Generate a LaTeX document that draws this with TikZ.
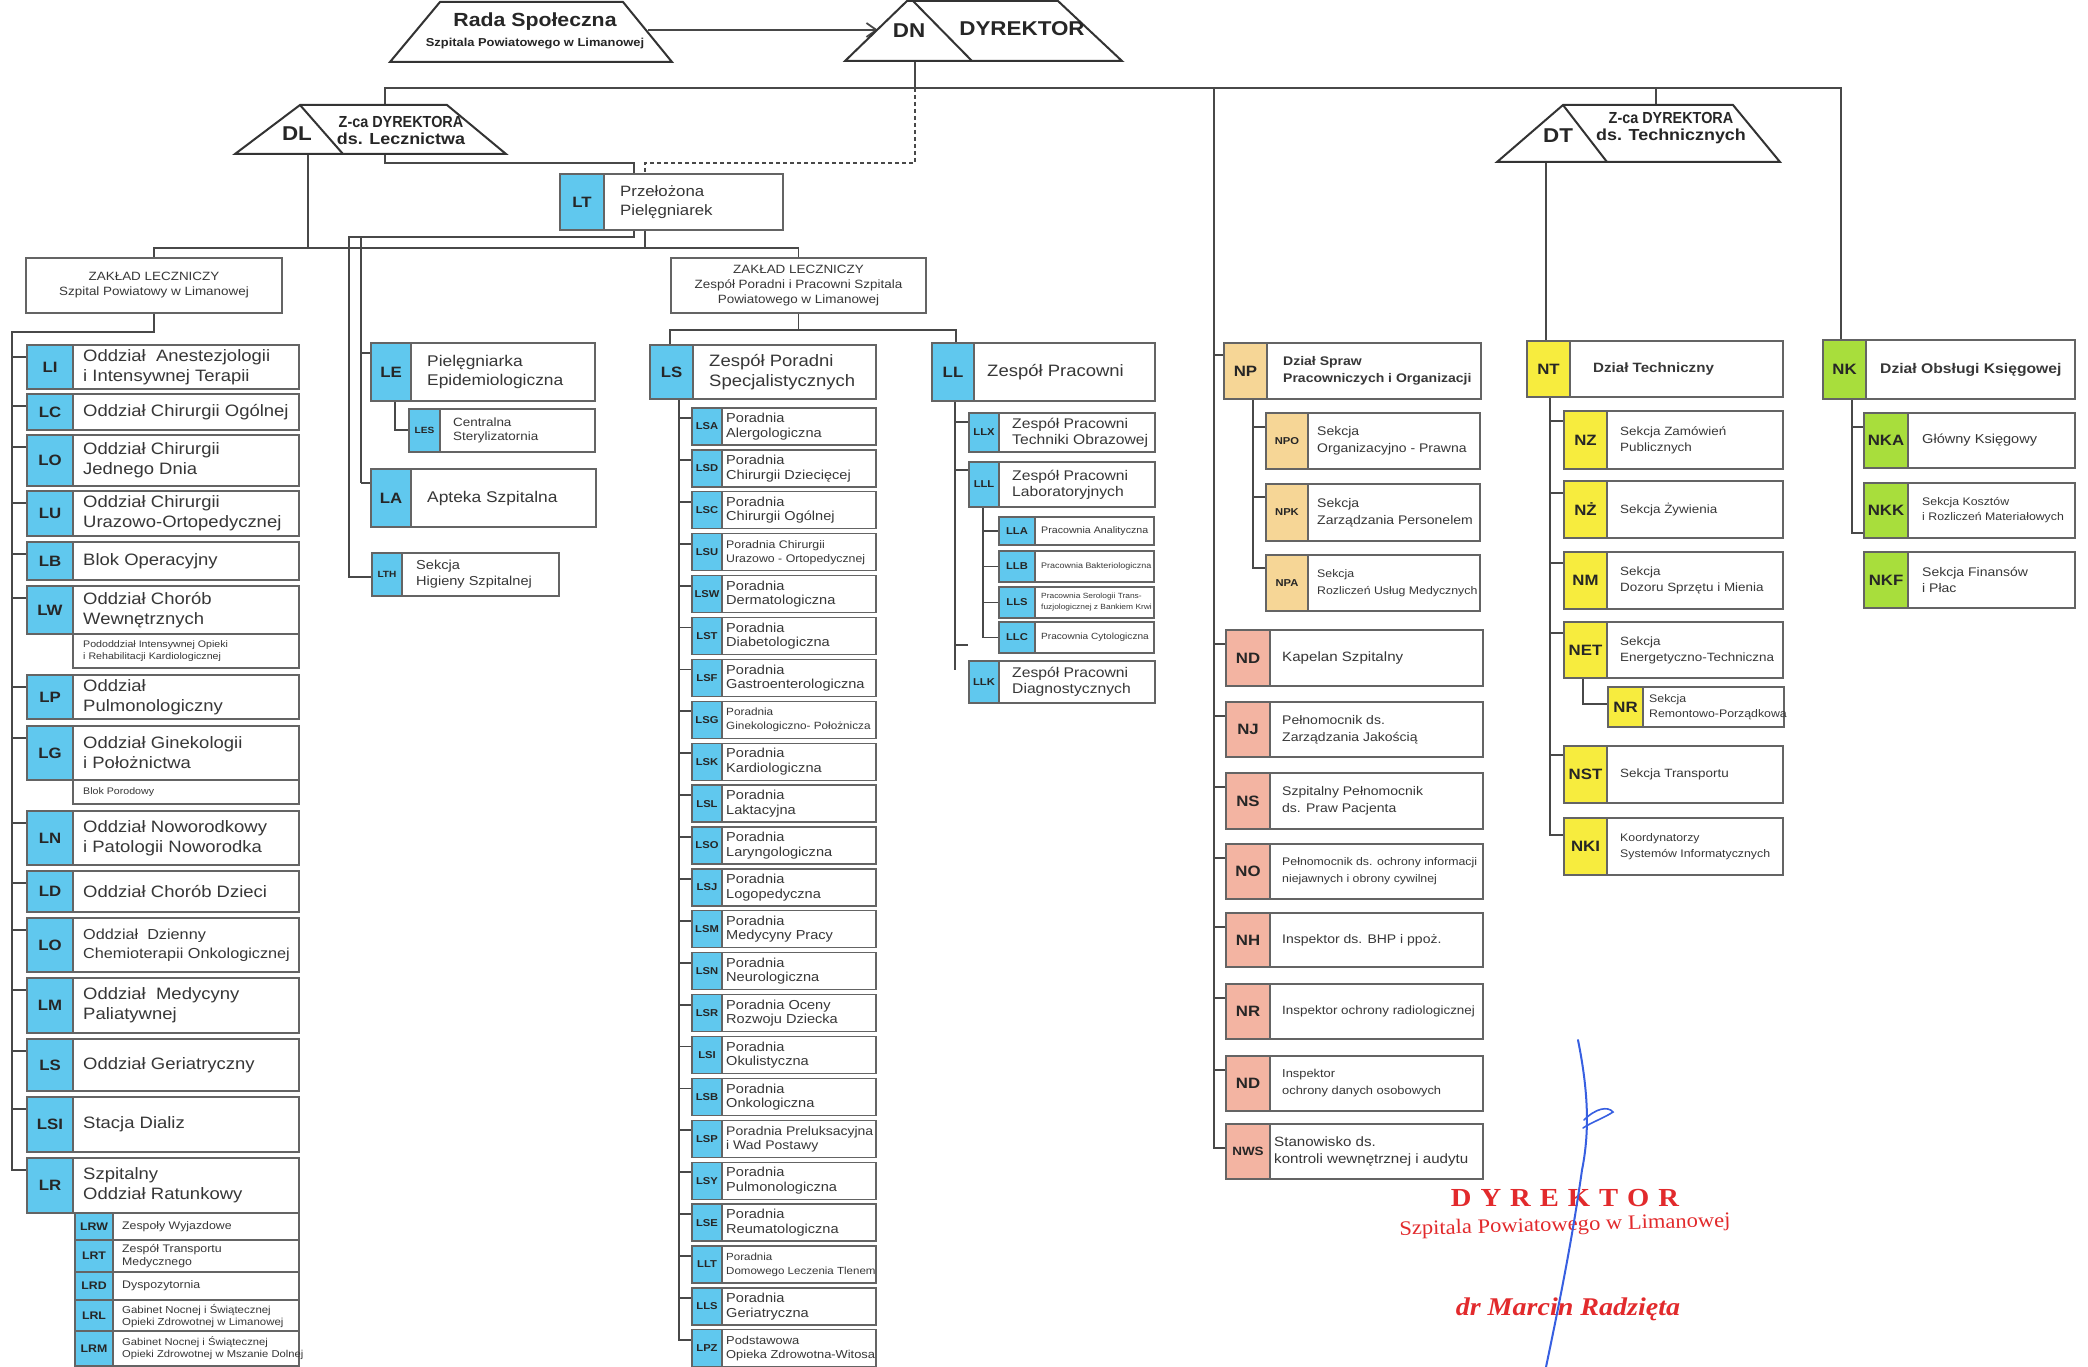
\documentclass[tikz,border=0pt]{standalone}
\usepackage{fontspec}
\setmainfont[FakeStretch=1.12]{Liberation Sans}
\newfontfamily\narrowbf[FakeStretch=0.9]{Liberation Sans}
\newfontfamily\redserif[FakeStretch=1.1]{Liberation Serif}
\usetikzlibrary{calc,arrows.meta}
\pgfdeclarelayer{back}\pgfdeclarelayer{bg}\pgfsetlayers{back,bg,main}
\newcommand\fsz[2]{\fontsize{#1}{#2}\selectfont}
\newcommand\lcf{\fsz{16.5}{20}}
\definecolor{cblue}{RGB}{96,200,238}
\definecolor{corange}{RGB}{246,214,150}
\definecolor{cpink}{RGB}{243,180,162}
\definecolor{cyellow}{RGB}{247,236,62}
\definecolor{cgreen}{RGB}{168,222,60}
\definecolor{connc}{RGB}{72,72,72}
\definecolor{framec}{RGB}{100,100,100}
\definecolor{txtc}{RGB}{55,55,55}
\definecolor{cred}{RGB}{226,42,44}
\definecolor{cpen}{RGB}{55,95,225}
\newcommand\ubox[8]{%
  \node[frame, minimum width={#4-(#2)}, minimum height={#5-(#3)}, anchor=north west] (#1) at (#2,#3) {};%
  \node[codebox, #7, minimum width={#6}, minimum height={#5-(#3)}, anchor=north west] (#1c) at (#2,#3) {#8};%
}
\newcommand\utx[4]{\node[txt, font=#3, anchor=west] (#1t) at ($(#1c.east)+(#2,0)$) {#4};}
\newcommand\lstub[3]{\begin{pgfonlayer}{bg}\draw[conn] ($(#1.north west)+(0,#2)$) -- ++(-#3,0);\end{pgfonlayer}}
\newcommand\lsgap{\hspace{9pt}}
\begin{document}
\begin{tikzpicture}[x=1pt,y=-1pt,
  frame/.style={draw=framec, line width=1.3pt, fill=white, inner sep=0pt, outer sep=0pt},
  codebox/.style={draw=framec, line width=1.3pt, inner sep=0pt, outer sep=0pt, text=black!85},
  txt/.style={inner sep=0pt, align=left, text=txtc},
  conn/.style={draw=connc, line width=1.8pt},
  hdr/.style={draw=black!80, line width=2pt, fill=white, line join=miter},
  htxt/.style={inner sep=0pt, text=black!85},
  kbl/.style={fill=cblue, font=\bfseries\fsz{15}{16}},
  kbls/.style={fill=cblue, font=\bfseries\fsz{10}{11}},
  kblt/.style={fill=cblue, font=\bfseries\fsz{9}{10}},
  kbl2/.style={fill=cblue, font=\bfseries\fsz{11}{12}},
  kor/.style={fill=corange, font=\bfseries\fsz{15}{16}},
  kors/.style={fill=corange, font=\bfseries\fsz{10}{11}},
  kpk/.style={fill=cpink, font=\bfseries\fsz{15}{16}},
  kpks/.style={fill=cpink, font=\bfseries\fsz{12}{13}},
  kye/.style={fill=cyellow, font=\bfseries\fsz{15}{16}},
  kgr/.style={fill=cgreen, font=\bfseries\fsz{15}{16}}]
\useasboundingbox (0,0) rectangle (2088,1367);
\begin{pgfonlayer}{back}\fill[white] (0,0) rectangle (2088,1367);\end{pgfonlayer}

% ---------- header shapes ----------
\draw[hdr] (390,62) -- (440,2) -- (623,2) -- (672,62) -- cycle;
\node[htxt, font=\bfseries\fsz{19}{21}] (radaT) at (535,22) {Rada Społeczna};
\node[htxt, font=\bfseries\fsz{11.5}{13}] (radaS) at (535,44) {Szpitala Powiatowego w Limanowej};
\draw[hdr] (845,61) -- (907,1) -- (1058,1) -- (1122,61) -- cycle;
\draw[hdr] (913,1) -- (972,61);
\node[htxt, font=\bfseries\fsz{20}{22}] (dnT) at (909,31) {DN};
\node[htxt, font=\bfseries\fsz{20}{22}] (dyrT) at (1022,29) {DYREKTOR};
\draw[hdr] (235,154) -- (300,105) -- (447,105) -- (506,154) -- cycle;
\draw[hdr] (300,105) -- (343,154);
\node[htxt, font=\bfseries\fsz{20}{22}] (dlT) at (297,134) {DL};
\node[htxt, font=\narrowbf\bfseries\fsz{16}{18}] (dlZ) at (401,122) {Z-ca DYREKTORA};
\node[htxt, font=\bfseries\fsz{16}{18}] (dlD) at (401,139) {ds. Lecznictwa};
\draw[hdr] (1497,162) -- (1563,105) -- (1733,105) -- (1780,162) -- cycle;
\draw[hdr] (1563,105) -- (1607,162);
\node[htxt, font=\bfseries\fsz{20}{22}] (dtT) at (1558,136) {DT};
\node[htxt, font=\narrowbf\bfseries\fsz{16}{18}] (dtZ) at (1671,118) {Z-ca DYREKTORA};
\node[htxt, font=\bfseries\fsz{16}{18}] (dtD) at (1671,136) {ds. Technicznych};
\coordinate (radaE) at (648,30);
\coordinate (dnW) at (878,30);
\coordinate (dnB) at (915,61);
\coordinate (busL) at (385,88);
\coordinate (dlTop) at (385,105);
\coordinate (dlB) at (385,154);
\coordinate (dlB2) at (308,154);
\coordinate (dtTop) at (1656,105);
\coordinate (dtB) at (1546,162);

% ---------- LT and Zaklady ----------
\ubox{LT}{560}{174}{783}{230}{44}{kbl}{LT}
\utx{LT}{16}{\fsz{15}{19}}{Przełożona\\Pielęgniarek}
\node[frame, minimum width=256, minimum height=55, anchor=north west, align=center, text=txtc, font=\fsz{12}{15}] (ZL) at (26,258) {ZAKŁAD LECZNICZY\\Szpital Powiatowy w Limanowej};
\node[frame, minimum width=255, minimum height=55, anchor=north west, align=center, text=txtc, font=\fsz{12}{15}] (ZR) at (671,258) {ZAKŁAD LECZNICZY\\Zespół Poradni i Pracowni Szpitala\\Powiatowego w Limanowej};
\coordinate (ZLb) at ($(ZL.north)+(0,-10)$);

% ---------- left column ----------
\ubox{LI}{27}{345}{299}{389}{46}{kbl}{LI}
\utx{LI}{10}{\lcf}{Oddział~ Anestezjologii\\i Intensywnej Terapii}
\ubox{LC}{27}{394}{299}{430}{46}{kbl}{LC}
\utx{LC}{10}{\lcf}{Oddział Chirurgii Ogólnej}
\ubox{LO}{27}{435}{299}{486}{46}{kbl}{LO}
\utx{LO}{10}{\lcf}{Oddział Chirurgii\\Jednego Dnia}
\ubox{LU}{27}{491}{299}{536}{46}{kbl}{LU}
\utx{LU}{10}{\lcf}{Oddział Chirurgii\\Urazowo-Ortopedycznej}
\ubox{LB}{27}{542}{299}{580}{46}{kbl}{LB}
\utx{LB}{10}{\lcf}{Blok Operacyjny}
\ubox{LW}{27}{586}{299}{634}{46}{kbl}{LW}
\utx{LW}{10}{\lcf}{Oddział Chorób\\Wewnętrznych}
\node[frame, minimum width=226, minimum height=34, anchor=north west] (LWs) at (73,634) {};
\node[txt, font=\fsz{9.5}{11.5}, anchor=west] (LWst) at ($(LWs.west)+(10,0)$) {Pododdział Intensywnej Opieki\\i Rehabilitacji Kardiologicznej};
\ubox{LP}{27}{675}{299}{719}{46}{kbl}{LP}
\utx{LP}{10}{\lcf}{Oddział\\Pulmonologiczny}
\ubox{LG}{27}{726}{299}{780}{46}{kbl}{LG}
\utx{LG}{10}{\lcf}{Oddział Ginekologii\\i Położnictwa}
\node[frame, minimum width=226, minimum height=24, anchor=north west] (LGs) at (73,780) {};
\node[txt, font=\fsz{9.5}{11.5}, anchor=west] (LGst) at ($(LGs.west)+(10,0)$) {Blok Porodowy};
\ubox{LN}{27}{811}{299}{865}{46}{kbl}{LN}
\utx{LN}{10}{\lcf}{Oddział Noworodkowy\\i Patologii Noworodka}
\ubox{LD}{27}{871}{299}{912}{46}{kbl}{LD}
\utx{LD}{10}{\lcf}{Oddział Chorób Dzieci}
\ubox{LO2}{27}{918}{299}{972}{46}{kbl}{LO}
\utx{LO2}{10}{\fsz{14.5}{19}}{Oddział~ Dzienny\\Chemioterapii Onkologicznej}
\ubox{LM}{27}{978}{299}{1033}{46}{kbl}{LM}
\utx{LM}{10}{\lcf}{Oddział~ Medycyny\\Paliatywnej}
\ubox{LGer}{27}{1039}{299}{1091}{46}{kbl}{LS}
\utx{LGer}{10}{\lcf}{Oddział Geriatryczny}
\ubox{LSI}{27}{1097}{299}{1152}{46}{kbl}{LSI}
\utx{LSI}{10}{\lcf}{Stacja Dializ}
\ubox{LR}{27}{1158}{299}{1213}{46}{kbl}{LR}
\utx{LR}{10}{\lcf}{Szpitalny\\Oddział Ratunkowy}
\ubox{LRW}{75}{1213}{299}{1240}{38}{kbl2}{LRW}
\utx{LRW}{9}{\fsz{11}{12.5}}{Zespoły Wyjazdowe}
\ubox{LRT}{75}{1240}{299}{1272}{38}{kbl2}{LRT}
\utx{LRT}{9}{\fsz{11}{12.5}}{Zespół Transportu\\Medycznego}
\ubox{LRD}{75}{1272}{299}{1300}{38}{kbl2}{LRD}
\utx{LRD}{9}{\fsz{11}{12.5}}{Dyspozytornia}
\ubox{LRL}{75}{1300}{299}{1331}{38}{kbl2}{LRL}
\utx{LRL}{9}{\fsz{10.2}{12}}{Gabinet Nocnej i Świątecznej\\Opieki Zdrowotnej w Limanowej}
\ubox{LRM}{75}{1331}{299}{1366}{38}{kbl2}{LRM}
\utx{LRM}{9}{\fsz{10}{12}}{Gabinet Nocnej i Świątecznej\\Opieki Zdrowotnej w Mszanie Dolnej}
\foreach \b in {LI,LC,LO,LU,LB,LW,LP,LG,LN,LD,LO2,LM,LGer,LSI}{\lstub{\b}{12}{15}}

% ---------- LE / LA / LTH ----------
\ubox{LE}{371}{343}{595}{401}{40}{kbl}{LE}
\utx{LE}{16}{\fsz{15.5}{19}}{Pielęgniarka\\Epidemiologiczna}
\ubox{LES}{409}{409}{595}{452}{31}{kblt}{LES}
\utx{LES}{13}{\fsz{12}{14.5}}{Centralna\\Sterylizatornia}
\ubox{LA}{371}{469}{596}{527}{40}{kbl}{LA}
\utx{LA}{16}{\fsz{15.5}{19}}{Apteka Szpitalna}
\ubox{LTH}{372}{553}{559}{596}{30}{kblt}{LTH}
\utx{LTH}{14}{\fsz{13}{16}}{Sekcja\\Higieny Szpitalnej}
\lstub{LE}{10}{10}
\lstub{LA}{14}{10}

% ---------- LS column ----------
\ubox{LS}{650}{345}{876}{399}{43}{kbl}{LS}
\utx{LS}{16}{\lcf}{Zespół Poradni\\Specjalistycznych}
\foreach \nm/\cd/\fz/\ld/\tx [count=\i from 0] in {
 sa/LSA/13/14.5/{Poradnia\\Alergologiczna},
 sd/LSD/13/14.5/{Poradnia\\Chirurgii Dziecięcej},
 sc/LSC/13/14.5/{Poradnia\\Chirurgii Ogólnej},
 su/LSU/11/14/{Poradnia Chirurgii\\Urazowo - Ortopedycznej},
 sw/LSW/13/14.5/{Poradnia\\Dermatologiczna},
 st/LST/13/14.5/{Poradnia\\Diabetologiczna},
 sf/LSF/13/14.5/{Poradnia\\Gastroenterologiczna},
 sg/LSG/10.5/14/{Poradnia\\Ginekologiczno- Położnicza},
 sk/LSK/13/14.5/{Poradnia\\Kardiologiczna},
 sl/LSL/13/14.5/{Poradnia\\Laktacyjna},
 so/LSO/13/14.5/{Poradnia\\Laryngologiczna},
 sj/LSJ/13/14.5/{Poradnia\\Logopedyczna},
 sm/LSM/13/14.5/{Poradnia\\Medycyny Pracy},
 sn/LSN/13/14.5/{Poradnia\\Neurologiczna},
 sr/LSR/13/14.5/{Poradnia Oceny\\Rozwoju Dziecka},
 si/LSI/13/14.5/{Poradnia\\Okulistyczna},
 sb/LSB/13/14.5/{Poradnia\\Onkologiczna},
 sp/LSP/12.5/14/{Poradnia Preluksacyjna\\i Wad Postawy},
 sy/LSY/13/14.5/{Poradnia\\Pulmonologiczna},
 se/LSE/13/14.5/{Poradnia\\Reumatologiczna},
 lt/LLT/10.3/14/{Poradnia\\Domowego Leczenia Tlenem},
 ls/LLS/13/14.5/{Poradnia\\Geriatryczna},
 pz/LPZ/11.5/14/{Podstawowa\\Opieka Zdrowotna-Witosa}}
{
  \pgfmathsetmacro\tp{408+41.9*\i}
  \pgfmathsetmacro\bt{\tp+37}
  \ubox{s\nm}{692}{\tp}{876}{\bt}{30}{kbls}{\cd}
  \utx{s\nm}{4}{\fsz{\fz}{\ld}}{\tx}
  \lstub{s\nm}{10}{13}
}

% ---------- LL column ----------
\ubox{LL}{932}{343}{1155}{401}{42}{kbl}{LL}
\utx{LL}{13}{\lcf}{Zespół Pracowni}
\ubox{LLX}{969}{413}{1155}{452}{30}{kbls}{LLX}
\utx{LLX}{13}{\fsz{14}{16}}{Zespół Pracowni\\Techniki Obrazowej}
\ubox{LLL}{969}{462}{1155}{507}{30}{kbls}{LLL}
\utx{LLL}{13}{\fsz{14}{16}}{Zespół Pracowni\\Laboratoryjnych}
\ubox{LLA}{999}{517}{1154}{545}{36}{kbls}{LLA}
\utx{LLA}{6}{\fsz{9.5}{11}}{Pracownia Analityczna}
\ubox{LLB}{999}{551}{1154}{582}{36}{kbls}{LLB}
\utx{LLB}{6}{\fsz{8}{10}}{Pracownia Bakteriologiczna}
\ubox{LLS}{999}{587}{1154}{618}{36}{kbls}{LLS}
\utx{LLS}{6}{\fsz{7.5}{11}}{Pracownia Serologii Trans-\\fuzjologicznej z Bankiem Krwi}
\ubox{LLC}{999}{622}{1154}{653}{36}{kbls}{LLC}
\utx{LLC}{6}{\fsz{9}{11}}{Pracownia Cytologiczna}
\ubox{LLK}{969}{661}{1155}{703}{30}{kbls}{LLK}
\utx{LLK}{13}{\fsz{14}{16}}{Zespół Pracowni\\Diagnostycznych}
\lstub{LLX}{9}{14}
\lstub{LLL}{8}{14}

% ---------- NP / N column ----------
\ubox{NP}{1224}{343}{1481}{399}{43}{kor}{NP}
\utx{NP}{16}{\bfseries\fsz{12.5}{17}}{Dział Spraw\\Pracowniczych i Organizacji}
\ubox{NPO}{1266}{413}{1480}{469}{42}{kors}{NPO}
\utx{NPO}{9}{\fsz{12.5}{17}}{Sekcja\\Organizacyjno - Prawna}
\ubox{NPK}{1266}{484}{1480}{541}{42}{kors}{NPK}
\utx{NPK}{9}{\fsz{12.5}{17}}{Sekcja\\Zarządzania Personelem}
\ubox{NPA}{1266}{555}{1480}{611}{42}{kors}{NPA}
\utx{NPA}{9}{\fsz{11}{17}}{Sekcja\\Rozliczeń Usług Medycznych}
\ubox{ND}{1226}{630}{1483}{686}{44}{kpk}{ND}
\utx{ND}{12}{\fsz{13.5}{17}}{Kapelan Szpitalny}
\ubox{NJ}{1226}{702}{1483}{757}{44}{kpk}{NJ}
\utx{NJ}{12}{\fsz{12.5}{17}}{Pełnomocnik ds.\\Zarządzania Jakością}
\ubox{NS}{1226}{773}{1483}{829}{44}{kpk}{NS}
\utx{NS}{12}{\fsz{12.5}{17}}{Szpitalny Pełnomocnik\\ds. Praw Pacjenta}
\ubox{NO}{1226}{844}{1483}{899}{44}{kpk}{NO}
\utx{NO}{12}{\fsz{11}{17}}{Pełnomocnik ds. ochrony informacji\\niejawnych i obrony cywilnej}
\ubox{NH}{1226}{913}{1483}{967}{44}{kpk}{NH}
\utx{NH}{12}{\fsz{12.5}{17}}{Inspektor ds. BHP i ppoż.}
\ubox{NRi}{1226}{984}{1483}{1039}{44}{kpk}{NR}
\utx{NRi}{12}{\fsz{12}{17}}{Inspektor ochrony radiologicznej}
\ubox{ND2}{1226}{1056}{1483}{1111}{44}{kpk}{ND}
\utx{ND2}{12}{\fsz{11.5}{17}}{Inspektor\\ochrony danych osobowych}
\ubox{NWS}{1226}{1124}{1483}{1179}{44}{kpks}{NWS}
\utx{NWS}{4}{\fsz{13.5}{17}}{Stanowisko ds.\\kontroli wewnętrznej i audytu}
\lstub{NP}{12}{10}
\foreach \b in {ND,NJ,NS,NO,NH,NRi,ND2}{\lstub{\b}{14}{12}}
\lstub{NPO}{14}{13}
\lstub{NPK}{13}{13}

% ---------- NT column ----------
\ubox{NT}{1527}{341}{1783}{397}{43}{kye}{NT}
\utx{NT}{23}{\bfseries\fsz{13.5}{16}}{Dział Techniczny}
\ubox{NZ}{1564}{411}{1783}{469}{43}{kye}{NZ}
\utx{NZ}{13}{\fsz{12}{16}}{Sekcja Zamówień\\Publicznych}
\ubox{NZZ}{1564}{481}{1783}{538}{43}{kye}{NŻ}
\utx{NZZ}{13}{\fsz{12}{16}}{Sekcja Żywienia}
\ubox{NM}{1564}{552}{1783}{609}{43}{kye}{NM}
\utx{NM}{13}{\fsz{12}{16}}{Sekcja\\Dozoru Sprzętu i Mienia}
\ubox{NET}{1564}{622}{1783}{678}{43}{kye}{NET}
\utx{NET}{13}{\fsz{12}{16}}{Sekcja\\Energetyczno-Techniczna}
\ubox{NRs}{1608}{687}{1784}{727}{35}{kye}{NR}
\utx{NRs}{6}{\fsz{11}{15}}{Sekcja\\Remontowo-Porządkowa}
\ubox{NST}{1564}{746}{1783}{803}{43}{kye}{NST}
\utx{NST}{13}{\fsz{12}{16}}{Sekcja Transportu}
\ubox{NKI}{1564}{818}{1783}{875}{43}{kye}{NKI}
\utx{NKI}{13}{\fsz{11}{16}}{Koordynatorzy\\Systemów Informatycznych}
\lstub{NZ}{10}{14}
\lstub{NZZ}{12}{14}
\lstub{NM}{11}{14}
\lstub{NET}{11}{14}
\lstub{NST}{9}{14}

% ---------- NK column ----------
\ubox{NK}{1823}{340}{2075}{399}{43}{kgr}{NK}
\utx{NK}{14}{\bfseries\fsz{14}{16}}{Dział Obsługi Księgowej}
\ubox{NKA}{1864}{413}{2075}{468}{44}{kgr}{NKA}
\utx{NKA}{14}{\fsz{13}{16}}{Główny Księgowy}
\ubox{NKK}{1864}{483}{2075}{538}{44}{kgr}{NKK}
\utx{NKK}{14}{\fsz{11}{15}}{Sekcja Kosztów\\i Rozliczeń Materiałowych}
\ubox{NKF}{1864}{552}{2075}{608}{44}{kgr}{NKF}
\utx{NKF}{14}{\fsz{12.5}{16}}{Sekcja Finansów\\i Płac}
\lstub{NKA}{14}{12}

% ---------- connectors ----------
\begin{pgfonlayer}{bg}
\draw[conn, -{Straight Barb[length=10pt,width=14pt]}] (radaE) -- (dnW);
\draw[conn] (dnB) -- (dnB |- busL);
\draw[conn] (dlTop) -- (busL) -| ($(NK.north west)+(18,0)$);
\draw[conn] (dtTop) -- (dtTop |- busL);
\draw[conn] ($(NWS.north west)+(0,24)$) -- ++(-12,0) |- (busL);
\draw[conn, dash pattern=on 4pt off 3pt] (dnB |- busL) -- ++(0,75) -| ($(LT.north west)+(85,0)$);
\draw[conn] (dlB) -- ++(0,9) -| ($(LT.north west)+(74,0)$);
\draw[conn] (dlB2) -- (dlB2 |- ZLb);
\draw[conn] (ZL.north) -- (ZLb) -| (ZR.north);
\draw[conn] ($(LT.south west)+(85,0)$) -- ($(LT.south west)+(85,18)$);
\draw[conn] ($(LT.south west)+(74,0)$) -- ++(0,7) -| ($(LTH.north west)+(-23,24)$) -- ($(LTH.north west)+(0,24)$);
\draw[conn] ($(LT.south west)+(-199,7)$) -- ($(LA.north west)+(-10,14)$);
\draw[conn] ($(LE.south west)+(24,0)$) |- ($(LES.north west)+(0,21)$);
\draw[conn] (ZL.south) -- ++(0,19) -| ($(LR.north west)+(-15,12)$) -- ($(LR.north west)+(0,12)$);
\draw[conn] (ZR.south) -- ++(0,17);
\draw[conn] ($(LS.north west)+(20,0)$) |- ($(LL.north west)+(24,-13)$) -- ($(LL.north west)+(24,0)$);
\draw[conn] ($(LS.south west)+(29,0)$) |- ($(spz.north west)+(0,10)$);
\draw[conn] ($(LL.south west)+(23,0)$) -- ($(LLK.north west)+(-14,9)$);
\draw[conn] ($(LLK.north west)+(-14,-16)$) -- ++(13,0);
\draw[conn] ($(LLL.south west)+(14,0)$) |- (LLC.west);
\foreach \b in {LLA,LLB,LLS}{\draw[conn] (\b.west) -- ++(-16,0);}
\draw[conn] ($(NP.south west)+(29,0)$) |- ($(NPA.north west)+(0,13)$);
\draw[conn] (dtB) -- ($(NT.north west)+(19,0)$);
\draw[conn] ($(NT.south west)+(23,0)$) |- ($(NKI.north west)+(0,17)$);
\draw[conn] ($(NET.south west)+(19,0)$) |- ($(NRs.north west)+(0,17)$);
\draw[conn] ($(NK.south west)+(29,0)$) |- ($(NKK.north west)+(0,50)$);
\end{pgfonlayer}

% ---------- signature ----------
\node[inner sep=0pt, text=cred, font=\redserif\bfseries\fsz{26}{28}] (sig1) at (1565,1198) {D\lsgap Y\lsgap R\lsgap E\lsgap K\lsgap T\lsgap O\lsgap R};
\node[inner sep=0pt, text=cred, font=\redserif\fsz{20.5}{24}, rotate=1.5] (sig2) at (1565,1226) {Szpitala Powiatowego w Limanowej};
\node[inner sep=0pt, text=cred, font=\redserif\bfseries\itshape\fsz{25.5}{28}] (sig3) at (1568,1309) {dr Marcin Radzięta};
\draw[cpen, line width=2pt, line cap=round] (1578,1040) .. controls (1588,1090) and (1590,1130) .. (1582,1170) .. controls (1572,1240) and (1560,1300) .. (1546,1367);
\draw[cpen, line width=1.6pt, line cap=round] (1584,1120) .. controls (1596,1108) and (1608,1106) .. (1613,1112) .. controls (1604,1118) and (1592,1122) .. (1583,1128);
\end{tikzpicture}
\end{document}
